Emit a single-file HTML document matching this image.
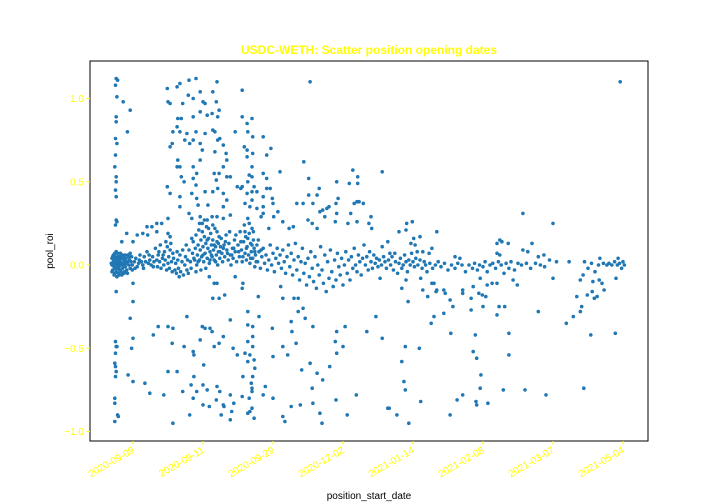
<!DOCTYPE html>
<html><head><meta charset="utf-8"><style>
body{margin:0;background:#fff}
svg{display:block;font-family:"Liberation Sans","DejaVu Sans",sans-serif}
</style></head><body>
<svg id="chart" width="720" height="504" viewBox="0 0 720 504">
<rect x="0" y="0" width="720" height="504" fill="#fff"/>
<text x="369" y="54" text-anchor="middle" font-size="12" font-weight="bold" fill="#ffff00">USDC-WETH: Scatter position opening dates</text>
<g id="marks"></g>
<rect x="90" y="61" width="558" height="380" fill="none" stroke="#000" stroke-width="1"/>
<g id="axes"></g>
<text transform="translate(53,251) rotate(-90)" text-anchor="middle" font-size="10" fill="#000">pool_roi</text>
<text x="369" y="499" text-anchor="middle" font-size="10" fill="#000">position_start_date</text>
</svg>
<script>
const xTickLabels=["2020-09-09","2020-09-11","2020-09-29","2020-12-02","2021-01-14","2021-02-08","2021-03-07","2021-05-04"];
const yTicks=[-1.0,-0.5,0.0,0.5,1.0];
const scatterPoints=[
[-0.24,1.12],[-0.22,1.11],[-0.25,1.08],[-0.23,1.01],[-0.24,0.89],[-0.24,0.86],[-0.25,0.76],[-0.23,0.73],[-0.25,0.66],[-0.26,0.59],[-0.24,0.53],[-0.24,0.5],[-0.25,0.45],[-0.24,0.41],[-0.24,0.27],[-0.25,0.24],[-0.23,0.26],[-0.24,-0.16],[-0.25,-0.46],[-0.24,-0.49],[-0.23,-0.49],[-0.25,-0.53],[-0.26,-0.59],[-0.25,-0.61],[-0.24,-0.64],[-0.25,-0.67],[-0.26,-0.8],[-0.26,-0.83],[-0.22,-0.9],[-0.26,-0.94],[-0.21,-0.91],
[-0.14,0.98],[-0.04,0.93],[-0.08,0.8],[0,-0.11],[0,-0.22],[-0.04,-0.32],[0,-0.44],[-0.02,-0.5],[-0.07,-0.66],[0,-0.7],
[0.49,1.06],[0.63,1.07],[0.67,1.09],[0.8,1.11],[0.9,1.12],[1.2,1.1],[0.5,0.98],[0.53,0.97],[0.71,0.97],[0.79,1.02],[0.86,1.0],[0.96,1.04],[1.0,0.98],[1.03,0.97],[1.14,1.04],[1.19,0.98],[1.23,0.93],[0.96,0.92],[1.06,0.9],[1.13,0.91],[0.64,0.88],[0.69,0.88],[0.86,0.89],[1.21,0.89],[0.63,0.83],[0.57,0.8],[0.67,0.8],[0.77,0.79],[0.9,0.8],[1.03,0.79],[1.14,0.81],[1.17,0.8],[0.53,0.71],[0.56,0.73],[0.74,0.75],[0.81,0.73],[0.86,0.75],[0.96,0.73],[0.99,0.69],[1.21,0.75],[1.24,0.76],[1.17,0.68],[1.29,0.72],[0.64,0.63],[0.63,0.59],[0.67,0.59],[0.96,0.63],[0.86,0.59],[1.33,0.67],[1.34,0.63],[1.29,0.59],[0.69,0.53],[0.73,0.5],[0.91,0.55],[0.86,0.52],[1.16,0.55],[1.19,0.51],[1.23,0.55],[1.34,0.53],[1.39,0.53],[0.49,0.47],[0.9,0.48],[0.53,0.43],[0.67,0.41],[0.84,0.43],[0.91,0.4],[1.03,0.44],[1.14,0.44],[1.21,0.46],[1.29,0.43],[0.67,0.35],[0.93,0.36],[1.07,0.36],[1.29,0.35],[1.34,0.39],[0.8,0.31],[0.84,0.28],[0.96,0.29],[0.99,0.25],[1.06,0.27],[1.13,0.29],[1.2,0.29],[1.29,0.28],[1.39,0.3],[0.5,0.28],
[0.34,0.25],[0.41,0.25],[0.2,0.23],[0.27,0.23],[0.06,0.18],[0.14,0.19],[0.21,0.18],[0.34,0.2],[0.5,0.19],[0.53,0.17],[-0.09,0.19],[-0.16,0.14],[0,0.14],
[0.77,-0.31],[0.36,-0.37],[0.5,-0.37],[0.57,-0.38],[0.29,-0.42],[0.99,-0.37],[1.03,-0.38],[1.1,-0.38],[1.13,-0.4],[1.29,-0.43],[0.96,-0.45],[1.23,-0.47],[1.16,-0.49],[0.56,-0.47],[0.73,-0.49],[0.86,-0.52],[0.87,-0.54],[1.01,-0.6],[1.43,-0.5],[1.49,-0.54],[0.5,-0.64],[0.63,-0.64],[0.87,-0.67],[0.17,-0.71],[0.24,-0.77],[0.44,-0.78],[0.71,-0.76],[0.83,-0.72],[0.91,-0.76],[1.0,-0.72],[1.06,-0.75],[1.2,-0.73],[1.24,-0.76],[0.86,-0.8],[1.0,-0.84],[1.09,-0.85],[1.19,-0.81],[1.29,-0.84],[1.3,-0.85],[1.39,-0.78],[1.44,-0.83],[1.26,-0.9],[1.41,-0.88],[1.39,-0.93],[0.81,-0.9],[0.57,-0.95],
[1.56,1.05],[1.56,0.89],[1.63,0.85],[1.7,0.88],[1.64,0.8],[1.71,0.77],[1.59,0.71],[1.63,0.69],[1.71,0.67],[1.63,0.65],[1.7,0.59],[1.66,0.54],[1.7,0.53],[1.64,0.5],[1.73,0.47],[1.56,0.47],[1.63,0.43],[1.7,0.44],[1.77,0.44],[1.86,0.41],[1.91,0.46],[1.96,0.46],[1.86,0.55],[1.91,0.52],[1.91,0.66],[1.97,0.7],[1.86,0.77],[1.46,0.8],[2.1,0.56],[2.44,0.62],[2.51,0.52],[2.53,1.1],[1.99,0.4],[2.0,0.37],[1.86,0.35],[1.77,0.34],[1.6,0.37],[1.67,0.35],[1.7,0.39],[1.49,0.47],[1.54,0.46],
[1.64,-0.28],[1.8,-0.31],[1.64,-0.36],[1.71,-0.37],[1.71,-0.43],[1.64,-0.46],[1.71,-0.49],[1.6,-0.53],[1.67,-0.54],[1.73,-0.57],[1.64,-0.58],[1.74,-0.62],[1.57,-0.67],[1.71,-0.67],[1.69,-0.71],[1.7,-0.74],[1.7,-0.76],[1.66,-0.8],[1.67,-0.88],[1.7,-0.86],[1.64,-0.89],[1.73,-0.92],[1.56,-0.79],
[1.79,-0.19],[1.89,-0.73],[1.86,-0.78],[1.99,-0.38],[2.0,-0.55],[2.0,-0.8],[2.14,-0.49],[2.21,-0.54],[2.26,-0.34],[2.27,-0.4],[2.33,-0.47],[2.14,-0.91],[2.17,-0.94],[2.26,-0.85],[2.39,-0.84],[2.41,-0.63],[2.53,-0.59],[2.56,-0.74],[2.57,-0.83],[2.63,-0.65],[2.67,-0.89],[2.7,-0.95],[2.71,-0.69],[2.81,-0.61],[2.9,-0.81],[2.89,-0.46],[2.91,-0.53],[2.91,-0.4],[3.0,-0.49],[3.03,-0.37],[3.06,-0.9],[3.19,-0.78],[3.34,-0.4],[3.47,-0.31],[3.56,-0.44],[3.64,-0.86],[2.57,-0.37],[2.36,-0.28],[2.46,-0.32],[2.43,-0.26],[2.36,-0.2],[2.3,-0.2],[2.14,-0.2],[2.11,-0.13],
[1.09,-0.07],[1.16,-0.11],[1.2,-0.11],[1.14,-0.2],[1.23,-0.2],[1.31,-0.18],[1.39,-0.33],[1.46,-0.07],[1.56,-0.14],[1.57,-0.11],
[2.51,0.42],[2.57,0.37],[2.63,0.42],[2.66,0.46],[2.34,0.37],[2.43,0.37],[2.67,0.32],[2.71,0.33],[2.77,0.34],[2.8,0.35],[2.9,0.37],[2.93,0.4],[2.91,0.5],[3.09,0.49],[3.14,0.57],[3.21,0.53],[3.21,0.49],[3.2,0.38],[3.23,0.38],[3.29,0.37],[3.16,0.37],[3.56,0.56],[3.11,0.31],[2.91,0.31],[2.89,0.26],[3.07,0.25],[3.4,0.29],[3.37,0.25],[3.41,0.22],[3.2,0.26],[2.74,0.29],[2.63,0.22],[2.5,0.27],[2.56,0.25],[2.23,0.22],[2.29,0.23],[2.14,0.26],[2.07,0.32],[2.01,0.29],[1.86,0.31],[1.83,0.29],[1.94,0.22],
[6.96,1.1],[5.57,0.31],[6.0,0.25],[3.99,0.26],[3.91,0.25],[3.9,0.21],[3.8,0.2],[4.34,0.2],[4.1,0.17],[4.01,0.16],[3.64,0.14],[3.97,0.13],[4.03,0.12],[3.56,0.11],[5.24,0.15],[5.27,0.14],[5.2,0.13],[5.36,0.13],[5.7,0.13],[5.64,0.08],[5.57,0.09],[5.2,0.07],[5.24,0.06],[4.27,0.1],[4.23,0.07],[4.14,0.08],[4.06,0.08],[3.74,0.07],[3.67,0.07],[4.6,0.05],[4.67,0.04],[5.79,0.05],[5.87,0.06],[6.23,0.02],[6.67,0.04],[6.93,0.04],[7.0,0.02],
[3.53,-0.08],[3.84,-0.14],[3.9,-0.09],[4.11,-0.08],[4.14,-0.15],[4.21,-0.19],[4.27,-0.11],[4.3,-0.11],[4.33,-0.16],[4.34,-0.15],[4.44,-0.15],[4.46,-0.17],[4.53,-0.21],[4.57,-0.25],[4.44,-0.29],[4.3,-0.31],[4.26,-0.35],[3.93,-0.22],[4.71,-0.15],[4.71,-0.17],[4.83,-0.2],[4.83,-0.27],[4.86,-0.13],[4.96,-0.08],[4.94,-0.17],[4.99,-0.18],[5.04,-0.19],[5.0,-0.25],[5.06,-0.12],[5.13,-0.11],[5.2,-0.11],[5.2,-0.3],[5.23,-0.25],[5.31,-0.25],[5.43,-0.09],[5.49,-0.12],[5.79,-0.28],[6.0,-0.08],[6.29,-0.31],[6.19,-0.35],[6.34,-0.19],[6.39,-0.28],[6.41,-0.25],[6.39,-0.09],[6.43,-0.06],[6.49,-0.18],[6.56,-0.16],[6.59,-0.2],[6.63,-0.19],[6.57,-0.1],[6.66,-0.09],[6.7,-0.11],[6.73,-0.15],[6.9,-0.08],
[3.89,-0.49],[4.09,-0.5],[3.84,-0.58],[3.87,-0.7],[3.89,-0.75],[3.66,-0.86],[3.77,-0.9],[3.94,-0.95],[4.11,-0.82],[4.54,-0.41],[4.53,-0.9],[4.63,-0.81],[4.71,-0.78],[4.86,-0.52],[4.91,-0.56],[4.89,-0.42],[4.97,-0.66],[4.96,-0.74],[4.9,-0.82],[4.91,-0.84],[5.07,-0.83],[5.29,-0.75],[5.37,-0.41],[5.37,-0.54],[5.6,-0.75],[5.9,-0.78],[6.54,-0.42],[6.89,-0.41],[6.44,-0.74]
];
const bandPoints=[
[-0.3,0.04],[-0.3,0.0],[-0.29,-0.03],[-0.28,0.02],[-0.28,0.06],[-0.27,-0.01],[-0.27,0.03],[-0.26,-0.05],[-0.26,0.01],[-0.25,0.05],[-0.25,-0.02],[-0.24,0.02],[-0.24,-0.04],[-0.23,0.0],[-0.23,0.04],[-0.22,-0.02],[-0.22,0.07],[-0.21,0.01],[-0.21,-0.05],[-0.2,0.03],[-0.2,-0.01],[-0.19,0.05],[-0.19,-0.03],[-0.18,0.0],[-0.18,0.02],[-0.17,-0.04],[-0.17,0.04],[-0.16,0.01],[-0.15,-0.02],[-0.15,0.06],[-0.14,0.0],[-0.13,0.03],[-0.13,-0.05],[-0.12,0.02],[-0.11,-0.01],[-0.1,0.04],[-0.1,0.01],[-0.09,-0.03],[-0.08,0.02],[-0.07,0.06],[-0.06,0.0],[-0.05,0.03],[-0.04,-0.02],[-0.03,0.02],[-0.02,0.05],[-0.01,0.0],
[0.02,0.02],[0.04,0.04],[0.06,-0.01],[0.08,0.01],[0.1,0.06],[0.12,0.02],[0.14,0.0],[0.16,0.05],[0.18,0.02],[0.2,0.08],[0.22,0.01],[0.24,0.03],[0.26,0.0],[0.28,0.05],[0.3,0.02],[0.32,0.1],[0.34,0.03],[0.35,-0.01],[0.36,0.06],[0.38,0.02],[0.39,0.12],[0.4,-0.02],[0.42,0.04],[0.44,0.0],[0.45,0.08],[0.46,0.03],[0.48,-0.03],[0.49,0.11],[0.5,0.01],[0.51,0.05],[0.52,-0.02],[0.53,0.09],[0.55,0.02],[0.56,-0.04],[0.58,0.04],[0.6,-0.03],[0.61,0.01],[0.62,-0.05],[0.64,0.03],[0.65,-0.02],[0.67,0.06],[0.68,-0.04],[0.7,0.02],[0.72,-0.06],[0.74,0.0],[0.75,0.05],[0.77,-0.03],[0.78,0.03],[0.8,0.09],[0.82,0.02],[0.83,-0.02],[0.85,0.07],[0.86,0.14],[0.88,0.03],[0.89,0.1],[0.9,0.18],[0.91,0.0],[0.92,0.06],[0.93,0.12],[0.94,0.21],[0.95,0.03],[0.96,0.09],[0.97,0.15],[0.98,0.05],[0.99,0.2],[1.0,0.11],[1.01,0.02],[1.02,0.17],[1.03,0.07],[1.04,0.13],[1.05,0.23],[1.06,0.04],[1.07,0.1],[1.08,0.16],[1.09,0.01],[1.1,0.08],[1.11,0.19],[1.12,0.12],[1.13,0.05],[1.14,0.15],[1.15,0.09],[1.16,0.03],[1.17,0.22],[1.18,0.11],[1.19,0.06],[1.2,0.14],[1.21,0.0],[1.22,0.08],[1.23,0.17],[1.24,0.04],[1.25,0.11],[1.27,0.07],[1.28,0.02],[1.3,0.12],[1.31,0.05],[1.33,0.18],[1.34,0.09],[1.36,0.03],[1.37,0.13],[1.39,0.06],[1.4,0.0],[1.42,0.1],[1.43,0.04],[1.45,0.15],[1.46,0.08],[1.48,0.02],[1.5,0.12],[1.52,0.05],[1.53,0.2],[1.55,0.09],[1.56,0.02],[1.58,0.14],[1.59,0.24],[1.6,0.07],[1.61,0.17],[1.62,0.03],[1.63,0.11],[1.64,0.28],[1.65,0.06],[1.66,0.19],[1.67,0.01],[1.68,0.13],[1.69,0.08],[1.7,0.22],[1.71,0.04],[1.72,0.15],[1.73,0.1],[1.74,-0.01],[1.75,0.06],[1.77,0.12],[1.78,0.02],[1.8,0.08],[1.82,-0.02],[1.84,0.05],[1.86,0.1],[1.88,0.01],[1.9,0.06],[1.92,-0.03],[1.94,0.03],[1.96,0.12],[1.98,0.0],[2.0,0.07],[2.02,-0.04],[2.04,0.04],[2.06,0.1],[2.08,0.01],[2.1,0.06],[2.12,-0.02],[2.14,0.09],[2.16,0.02],[2.18,-0.05],[2.2,0.05],[2.22,0.12],[2.24,-0.01],[2.26,0.07],[2.28,-0.06],[2.3,0.03],[2.32,0.13],[2.34,-0.03],[2.36,0.05],[2.38,-0.09],[2.4,0.02],[2.42,0.1],[2.44,-0.05],[2.46,0.01],[2.48,-0.12],[2.5,0.04],[2.52,-0.07],[2.54,0.08],[2.56,-0.02],[2.58,-0.1],[2.6,0.05],[2.62,-0.14],[2.64,0.0],[2.66,-0.06],[2.68,0.11],[2.7,-0.03],[2.72,-0.11],[2.74,0.06],[2.76,-0.16],[2.78,0.02],[2.8,-0.08],[2.82,0.09],[2.84,-0.04],[2.86,-0.13],[2.88,0.03],[2.9,-0.09],[2.92,0.07],[2.94,-0.01],[2.96,-0.06],[2.98,0.04],[3.0,-0.12],[3.02,0.0],[3.04,0.08],[3.06,-0.05],[3.08,0.03],[3.1,-0.09],[3.12,0.05],[3.14,-0.02],[3.16,0.1],[3.18,0.0],[3.2,-0.04],[3.22,0.06],[3.24,0.02],[3.26,-0.06],[3.28,0.04],[3.3,0.12],[3.32,0.0],[3.34,0.05],[3.36,-0.03],[3.38,0.08],[3.4,0.02],[3.42,-0.02],[3.44,0.06],[3.46,0.01],[3.48,0.04],[3.5,-0.01],[3.52,0.03],[3.55,0.0],[3.58,0.05],[3.6,0.02],[3.62,-0.02],[3.65,0.03],[3.68,0.0],[3.7,0.05],[3.72,-0.03],[3.75,0.02],[3.78,-0.05],[3.8,0.01],[3.82,0.04],[3.84,-0.02],[3.86,0.0],[3.88,0.06],[3.9,0.02],[3.92,-0.04],[3.94,0.03],[3.96,0.0],[3.98,0.07],[4.0,0.02],[4.02,-0.01],[4.04,0.04],[4.07,0.0],[4.1,0.03],[4.13,-0.02],[4.16,0.02],[4.18,0.0],[4.2,-0.04],[4.24,0.01],[4.28,-0.02],[4.32,0.0],[4.36,0.02],[4.4,-0.01],[4.45,0.01],[4.5,-0.03],[4.55,0.0],[4.6,-0.02],[4.64,0.01],[4.7,0.0],[4.75,-0.04],[4.8,0.0],[4.85,-0.02],[4.88,0.01],[4.92,-0.03],[4.95,0.0],[5.0,-0.01],[5.03,0.02],[5.06,-0.04],[5.1,0.0],[5.14,0.01],[5.18,-0.02],[5.22,0.02],[5.26,0.0],[5.3,-0.05],[5.33,0.01],[5.37,-0.02],[5.4,0.02],[5.45,-0.03],[5.5,0.01],[5.55,0.0],[5.62,0.01],[5.68,-0.02],[5.75,0.01],[5.82,0.0],[5.88,-0.01],[5.95,0.03],[6.05,0.02],[6.45,0.02],[6.5,-0.02],[6.55,0.01],[6.6,-0.04],[6.65,0.0],[6.72,0.01],[6.77,0.0],[6.8,0.01],[6.84,0.0],[6.88,0.02],[6.92,0.0],[6.95,0.01],[6.98,-0.02],[7.02,0.0]
];
const denseBandPoints=[
[-0.31,0.01],[-0.3,-0.04],[-0.29,0.05],[-0.27,-0.06],[-0.26,0.07],[-0.24,0.08],[-0.23,-0.07],[-0.21,0.05],[-0.2,-0.06],[-0.18,0.07],[-0.16,-0.06],[-0.14,0.05],[-0.12,-0.04],[-0.11,0.06],[-0.08,-0.05],[-0.06,0.05],[-0.04,0.07],[-0.01,-0.03],[0.03,-0.02],[0.09,0.03],[0.15,-0.02],[0.23,0.06],[0.29,-0.01],[0.37,0.08],[0.43,0.06],[0.47,0.14],[0.54,0.13],[0.57,0.07],[0.63,0.08],[0.66,-0.07],[0.71,0.09],[0.76,0.12],[0.79,-0.05],[0.84,0.16],[0.87,0.04],[0.9,-0.04],[0.93,0.02],[0.95,0.25],[0.97,-0.03],[1.0,0.06],[1.02,0.27],[1.04,-0.02],[1.06,0.15],[1.08,0.22],[1.1,0.03],[1.12,0.06],[1.14,0.24],[1.16,0.12],[1.18,0.02],[1.2,0.2],[1.22,0.13],[1.24,0.08],[1.26,0.16],[1.29,0.1],[1.32,0.14],[1.35,0.07],[1.38,0.2],[1.41,0.06],[1.44,0.1],[1.47,0.18],[1.51,0.08],[1.54,0.14],[1.57,0.05],[1.6,0.2],[1.62,0.1],[1.64,0.16],[1.66,0.25],[1.68,0.04],[1.7,0.12],[1.72,0.2],[1.74,0.08],[1.76,0.02],[1.79,0.15],[1.83,0.09]
];
const NS="http://www.w3.org/2000/svg";
function xScale(u){return 133+70*u;}
function yScale(r){return 265-166.5*r;}
const marks=document.getElementById('marks');
function addPoint(p,name){
  const c=document.createElementNS(NS,'circle');
  c.setAttribute('cx',xScale(p[0]).toFixed(1));
  c.setAttribute('cy',yScale(p[1]).toFixed(1));
  c.setAttribute('r','1.8');
  c.setAttribute('fill','#1f77b4');
  
  
  marks.appendChild(c);
}
bandPoints.forEach(p=>addPoint(p,'scatter-point'));
denseBandPoints.forEach(p=>addPoint(p,'scatter-point'));
scatterPoints.forEach(p=>addPoint(p,'scatter-point'));
const axes=document.getElementById('axes');
xTickLabels.forEach((lab,i)=>{
  const x=xScale(i);
  const t=document.createElementNS(NS,'line');
  t.setAttribute('x1',x);t.setAttribute('x2',x);t.setAttribute('y1',441);t.setAttribute('y2',444.5);
  t.setAttribute('stroke','#ffff00');
  
  
  axes.appendChild(t);
  const tx=document.createElementNS(NS,'text');
  tx.setAttribute('transform','translate('+(x+2)+',452) rotate(-30)');
  tx.setAttribute('text-anchor','end');
  tx.setAttribute('font-size','10');
  tx.setAttribute('fill','#ffff00');
  tx.textContent=lab;
  
  
  axes.appendChild(tx);
});
yTicks.forEach(v=>{
  const y=yScale(v);
  const t=document.createElementNS(NS,'line');
  t.setAttribute('x1',86.5);t.setAttribute('x2',90);t.setAttribute('y1',y);t.setAttribute('y2',y);
  t.setAttribute('stroke','#ffff00');
  
  
  axes.appendChild(t);
  const tx=document.createElementNS(NS,'text');
  tx.setAttribute('x',84);tx.setAttribute('y',y+3.5);
  tx.setAttribute('text-anchor','end');
  tx.setAttribute('font-size','10');
  tx.setAttribute('fill','#ffff00');
  tx.textContent=(v<0?'\u2212':'')+Math.abs(v).toFixed(1);
  
  
  axes.appendChild(tx);
});
</script>
</body></html>
